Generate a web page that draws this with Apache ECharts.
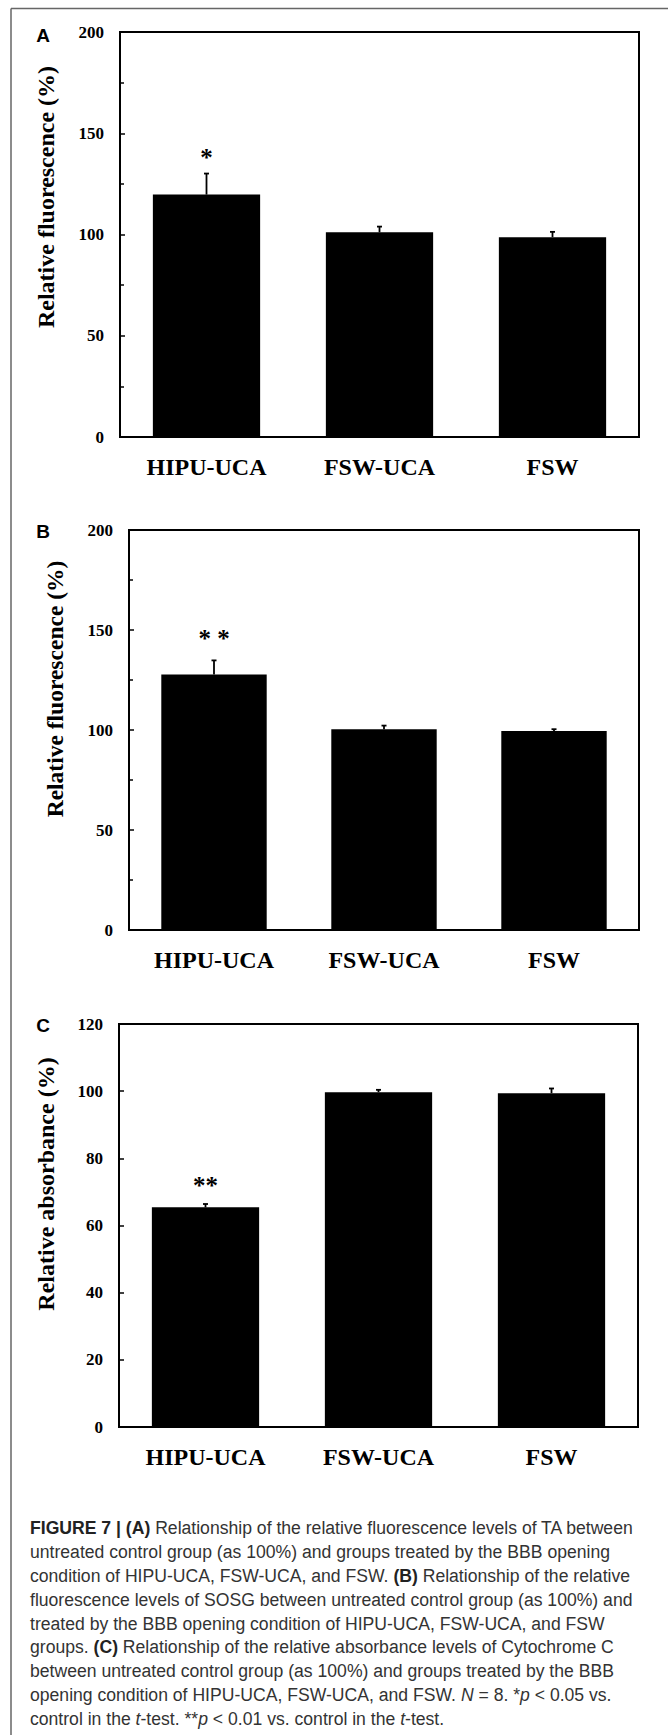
<!DOCTYPE html>
<html>
<head>
<meta charset="utf-8">
<script src="https://cdn.jsdelivr.net/npm/echarts@6/dist/echarts.min.js"></script>
<style>
  html, body { margin: 0; padding: 0; background: #fff; }
  #chart { width: 668px; height: 1735px; }
</style>
</head>
<body>
<div id="chart"></div>
<script>
// categories
const categories = ['HIPU-UCA', 'FSW-UCA', 'FSW'];

// A: TA relative fluorescence
const taValues = [119.7, 101.1, 98.7];
const taErrors = [10.4, 2.8, 2.6];
const taMarks = ['*', '', ''];

// B: SOSG relative fluorescence
const sosgValues = [127.8, 100.4, 99.5];
const sosgErrors = [7.0, 1.8, 0.9];
const sosgMarks = ['* *', '', ''];

// C: Cytochrome C relative absorbance
const cytValues = [65.4, 99.7, 99.4];
const cytErrors = [1.0, 0.7, 1.4];
const cytMarks = ['**', '', ''];

// tick labels
const fluoTicks = [0, 50, 100, 150, 200];
const absTicks = [0, 20, 40, 60, 80, 100, 120];

const serif = '"Liberation Serif", "Times New Roman", serif';
const sans = '"Liberation Sans", Arial, sans-serif';

// panel layout
const panels = [
  { grid: { left: 120, top: 32, width: 519, height: 405 }, values: taValues, errors: taErrors, marks: taMarks,
    ticks: fluoTicks, minor: true, markGap: 16, letter: 'A', title: 'Relative fluorescence (%)', titleX: 46, titleY: 197, titleSize: 24 },
  { grid: { left: 129, top: 530, width: 510, height: 400 }, values: sosgValues, errors: sosgErrors, marks: sosgMarks,
    ticks: fluoTicks, minor: true, markGap: 22, letter: 'B', title: 'Relative fluorescence (%)', titleX: 55, titleY: 689, titleSize: 23.5 },
  { grid: { left: 119, top: 1024, width: 519, height: 403 }, values: cytValues, errors: cytErrors, marks: cytMarks,
    ticks: absTicks, minor: false, markGap: 19, letter: 'C', title: 'Relative absorbance (%)', titleX: 46, titleY: 1184, titleSize: 24 }
];

const letterPos = [[43, 35], [43, 531], [43, 1025]];

// caption lines
const captionLines = [
  '{b|FIGURE 7 | (A)} Relationship of the relative fluorescence levels of TA between',
  'untreated control group (as 100%) and groups treated by the BBB opening',
  'condition of HIPU-UCA, FSW-UCA, and FSW. {b|(B)} Relationship of the relative',
  'fluorescence levels of SOSG between untreated control group (as 100%) and',
  'treated by the BBB opening condition of HIPU-UCA, FSW-UCA, and FSW',
  'groups. {b|(C)} Relationship of the relative absorbance levels of Cytochrome C',
  'between untreated control group (as 100%) and groups treated by the BBB',
  'opening condition of HIPU-UCA, FSW-UCA, and FSW. {i|N} = 8. *{i|p} < 0.05 vs.',
  'control in the {i|t}-test. **{i|p} < 0.01 vs. control in the {i|t}-test.'
];

const chart = echarts.init(document.getElementById('chart'), null, { renderer: 'svg' });

//误差线与星号
function errorSeries(idx, p) {
  return {
    type: 'custom',
    xAxisIndex: idx,
    yAxisIndex: idx,
    silent: true,
    z: 5,
    data: p.values.map((v, i) => [i, v, v + p.errors[i]]),
    renderItem(params, api) {
      const base = api.coord([api.value(0), api.value(1)]);
      const top = api.coord([api.value(0), api.value(2)]);
      const children = [
        { type: 'line', shape: { x1: base[0], y1: base[1], x2: top[0], y2: top[1] }, style: { stroke: '#000', lineWidth: 1.8 } },
        { type: 'line', shape: { x1: top[0] - 2.5, y1: top[1], x2: top[0] + 2.5, y2: top[1] }, style: { stroke: '#000', lineWidth: 1.8 } }
      ];
      const mark = p.marks[params.dataIndex];
      if (mark) {
        children.push({
          type: 'text', x: top[0], y: top[1] - p.markGap,
          style: { text: mark, fontFamily: serif, fontWeight: 'bold', fontSize: 25, fill: '#000', align: 'center', verticalAlign: 'middle' }
        });
      }
      return { type: 'group', children };
    }
  };
}

const grids = [], xAxes = [], yAxes = [], series = [], graphics = [];

panels.forEach((p, idx) => {
  grids.push(Object.assign({ show: true, borderColor: '#000', borderWidth: 2, containLabel: false, outerBoundsMode: 'none' }, p.grid));
  xAxes.push({
    type: 'category', gridIndex: idx, data: categories,
    axisLine: { lineStyle: { color: '#000', width: 2 } },
    axisTick: { show: false },
    axisLabel: { color: '#000', fontFamily: serif, fontWeight: 'bold', fontSize: 24, margin: 18 }
  });
  yAxes.push({
    type: 'value', gridIndex: idx,
    min: p.ticks[0], max: p.ticks[p.ticks.length - 1], interval: p.ticks[1] - p.ticks[0],
    axisLine: { show: true, lineStyle: { color: '#000', width: 2 } },
    axisTick: { show: true, inside: true, length: 5, lineStyle: { color: '#000', width: 1.5 } },
    minorTick: { show: p.minor, splitNumber: 2, length: 4, lineStyle: { color: '#000', width: 1.5 } },
    splitLine: { show: false },
    axisLabel: { color: '#000', fontFamily: serif, fontWeight: 'bold', fontSize: 17, margin: 16 }
  });
  series.push({
    type: 'bar', xAxisIndex: idx, yAxisIndex: idx, data: p.values,
    barWidth: '62%', itemStyle: { color: '#000' }, silent: true
  });
  series.push(errorSeries(idx, p));

  // 纵轴标题
  graphics.push({
    type: 'text', x: p.titleX, y: p.titleY, rotation: Math.PI / 2,
    style: { text: p.title, fontFamily: serif, fontWeight: 'bold', fontSize: p.titleSize, fill: '#000', align: 'center', verticalAlign: 'middle' }
  });
  // 面板字母
  graphics.push({
    type: 'text', x: letterPos[idx][0], y: letterPos[idx][1],
    style: { text: p.letter, fontFamily: sans, fontWeight: 'bold', fontSize: 19, fill: '#000', align: 'center', verticalAlign: 'middle' }
  });
});

// 外框
graphics.push({ type: 'line', shape: { x1: 11, y1: 8.5, x2: 668, y2: 8.5 }, style: { stroke: '#666', lineWidth: 1.5 } });
graphics.push({ type: 'line', shape: { x1: 11, y1: 8.5, x2: 11, y2: 1735 }, style: { stroke: '#666', lineWidth: 1.5 } });

// 图注
const capStyle = { fontFamily: sans, fontSize: 17.6, fill: '#333', lineHeight: 23.9 };
graphics.push({
  type: 'text', x: 30, y: 1516,
  style: Object.assign({
    text: captionLines.join('\n'),
    align: 'left', verticalAlign: 'top',
    rich: {
      b: Object.assign({}, capStyle, { fontWeight: 'bold', fill: '#222' }),
      i: Object.assign({}, capStyle, { fontStyle: 'italic' })
    }
  }, capStyle)
});

chart.setOption({
  backgroundColor: '#fff',
  animation: false,
  grid: grids,
  xAxis: xAxes,
  yAxis: yAxes,
  series: series,
  graphic: graphics
});
</script>
</body>
</html>
